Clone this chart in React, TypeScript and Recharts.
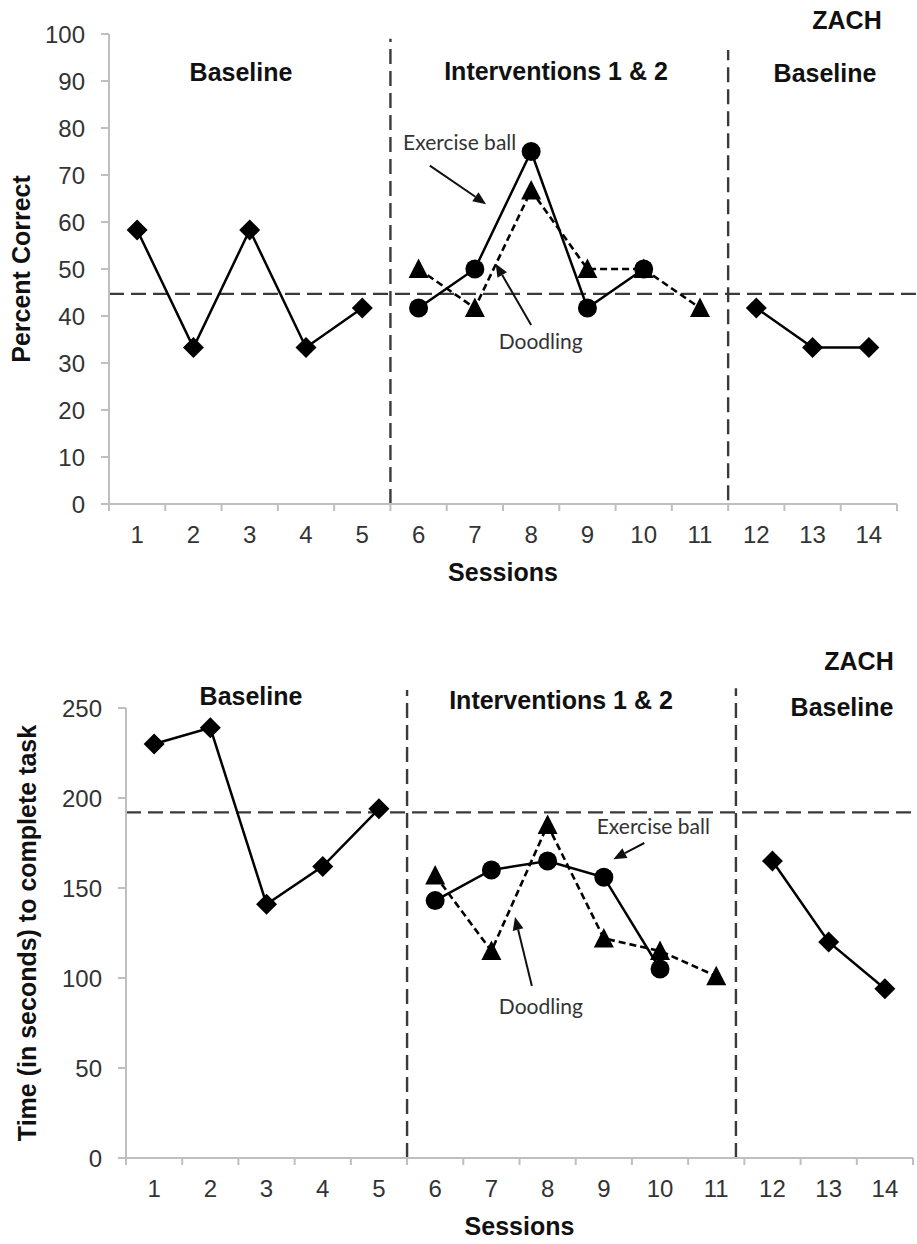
import React from 'react';
import { LineChart, Line, XAxis, YAxis, ReferenceLine, ReferenceDot } from 'recharts';

// sessions on the x axis
const sessions = [1, 2, 3, 4, 5, 6, 7, 8, 9, 10, 11, 12, 13, 14];
const baseline1Sessions = [1, 2, 3, 4, 5];
const ballSessions = [6, 7, 8, 9, 10];
const doodlingSessions = [6, 7, 8, 9, 10, 11];
const baseline2Sessions = [12, 13, 14];

// top panel: percent correct
const accuracyTicks = [0, 10, 20, 30, 40, 50, 60, 70, 80, 90, 100];
const accuracyBaseline1 = [58.3, 33.3, 58.3, 33.3, 41.7];
const accuracyBall = [41.7, 50, 75, 41.7, 50];
const accuracyDoodling = [50, 41.7, 66.7, 50, 50, 41.7];
const accuracyBaseline2 = [41.7, 33.3, 33.3];
const accuracyMean = 44.7;

// bottom panel: time to complete task
const timeTicks = [0, 50, 100, 150, 200, 250];
const timeBaseline1 = [230, 239, 141, 162, 194];
const timeBall = [143, 160, 165, 156, 105];
const timeDoodling = [157, 115, 185, 122, 115, 101];
const timeBaseline2 = [165, 120, 94];
const timeMean = 192;

const sessionTicks = [0.5, ...sessions.flatMap((s) => [s, s + 0.5])];

const toPoints = (xs: number[], ys: number[]) => xs.map((x, i) => ({ x, y: ys[i] }));

const AXIS = '#bfbfbf';
const TICK_TEXT = '#333';
const SANS = '"Liberation Sans", Arial, sans-serif';
const NOTE_FONT = 'Lato, "Open Sans", sans-serif';

const diamondDot = (p: any) => {
  const { cx, cy, index } = p;
  if (cx == null || cy == null) return <g key={`d-${index}`} />;
  const r = 10.5;
  return (
    <polygon
      key={`d-${index}`}
      points={`${cx},${cy - r} ${cx + r},${cy} ${cx},${cy + r} ${cx - r},${cy}`}
      fill="#000"
    />
  );
};

const circleDot = (p: any) => {
  const { cx, cy, index } = p;
  if (cx == null || cy == null) return <g key={`c-${index}`} />;
  return <circle key={`c-${index}`} cx={cx} cy={cy} r={9.5} fill="#000" />;
};

const triangleDot = (p: any) => {
  const { cx, cy, index } = p;
  if (cx == null || cy == null) return <g key={`t-${index}`} />;
  return (
    <polygon
      key={`t-${index}`}
      points={`${cx},${cy - 10.5} ${cx + 10},${cy + 9} ${cx - 10},${cy + 9}`}
      fill="#000"
    />
  );
};

const SessionTick = (props: any) => {
  const { x, y, payload } = props;
  const v = payload.value;
  if (Number.isInteger(v)) {
    return (
      <text x={x} y={y + 31} dy="0.35em" textAnchor="middle" fontSize={24} fill={TICK_TEXT} fontFamily={SANS}>
        {v}
      </text>
    );
  }
  return <line x1={x} x2={x} y1={y} y2={y + 7} stroke={AXIS} strokeWidth={2} />;
};

const ArrowShape = (p: any) => {
  const { x1, y1, x2, y2 } = p;
  if ([x1, y1, x2, y2].some((v) => v == null || isNaN(v))) return <g />;
  const ang = Math.atan2(y2 - y1, x2 - x1);
  const len = 13;
  const half = 5.5;
  const bx = x2 - len * Math.cos(ang);
  const by = y2 - len * Math.sin(ang);
  const px = -Math.sin(ang) * half;
  const py = Math.cos(ang) * half;
  return (
    <g>
      <line x1={x1} y1={y1} x2={bx} y2={by} stroke="#111" strokeWidth={2} />
      <polygon points={`${x2},${y2} ${bx + px},${by + py} ${bx - px},${by - py}`} fill="#111" />
    </g>
  );
};

const noteLabel = (text: string) => (props: any) => {
  const { viewBox } = props;
  const cx = viewBox.x + (viewBox.width || 0) / 2;
  const cy = viewBox.y + (viewBox.height || 0) / 2;
  return (
    <text x={cx} y={cy} dy="0.35em" textAnchor="middle" fontSize={21} fill="#333" fontFamily={NOTE_FONT}>
      {text}
    </text>
  );
};

const xTitle = (props: any) => {
  const { viewBox } = props;
  return (
    <text
      x={viewBox.x + viewBox.width / 2}
      y={viewBox.y + 68}
      dy="0.35em"
      textAnchor="middle"
      fontSize={25}
      fontWeight="bold"
      fill="#111"
      fontFamily={SANS}
    >
      Sessions
    </text>
  );
};

const yTitle = (text: string, x: number) => (props: any) => {
  const { viewBox } = props;
  const cy = viewBox.y + viewBox.height / 2;
  return (
    <text
      x={x}
      y={cy}
      dy="0.35em"
      transform={`rotate(-90, ${x}, ${cy})`}
      textAnchor="middle"
      fontSize={25}
      fontWeight="bold"
      fill="#111"
      fontFamily={SANS}
    >
      {text}
    </text>
  );
};

const PhaseText: React.FC<{ x: number; y: number; children: React.ReactNode }> = ({ x, y, children }) => (
  <div
    style={{
      position: 'absolute',
      left: x,
      top: y,
      transform: 'translate(-50%, -50%)',
      whiteSpace: 'nowrap',
      fontFamily: SANS,
      fontWeight: 'bold',
      fontSize: 25,
      color: '#111',
      lineHeight: 1,
    }}
  >
    {children}
  </div>
);

const seriesLine = (key: string, data: any[], dot: any, dashed = false) => (
  <Line
    key={key}
    data={data}
    dataKey="y"
    type="linear"
    stroke="#000"
    strokeWidth={dashed ? 2.6 : 2.5}
    strokeDasharray={dashed ? '7 4' : undefined}
    dot={dot}
    activeDot={false}
    isAnimationActive={false}
  />
);

const dashStyle = { stroke: '#3a3a3a', strokeWidth: 2.4, strokeDasharray: '15 7' };

export default function App() {
  return (
    <div style={{ position: 'absolute', left: 0, top: 0, width: 917, height: 1244, background: '#fff', fontFamily: SANS }}>
      {/* top panel */}
      <div style={{ position: 'absolute', left: 0, top: 0 }}>
        <LineChart width={917} height={600} margin={{ top: 34, right: 20, left: 0, bottom: 0 }}>
          <XAxis
            type="number"
            dataKey="x"
            domain={[0.5, 14.5]}
            ticks={sessionTicks}
            interval={0}
            tick={<SessionTick />}
            tickLine={false}
            tickSize={0}
            tickMargin={0}
            height={96}
            axisLine={{ stroke: AXIS, strokeWidth: 2 }}
            label={{ content: xTitle }}
          />
          <YAxis
            type="number"
            domain={[0, 100]}
            ticks={accuracyTicks}
            interval={0}
            width={109}
            tickSize={8}
            tickMargin={16}
            tick={{ fontSize: 24, fill: TICK_TEXT, fontFamily: SANS }}
            axisLine={{ stroke: AXIS, strokeWidth: 2 }}
            tickLine={{ stroke: AXIS, strokeWidth: 2 }}
            label={{ content: yTitle('Percent Correct', 21) }}
          />
          <ReferenceLine segment={[{ x: 0.5, y: accuracyMean }, { x: 14.86, y: accuracyMean }]} ifOverflow="visible" {...dashStyle} />
          <ReferenceLine segment={[{ x: 5.5, y: 0 }, { x: 5.5, y: 99 }]} ifOverflow="visible" {...dashStyle} />
          <ReferenceLine segment={[{ x: 11.5, y: 0.8 }, { x: 11.5, y: 96.6 }]} ifOverflow="visible" {...dashStyle} />
          {seriesLine('b1', toPoints(baseline1Sessions, accuracyBaseline1), diamondDot)}
          {seriesLine('dood', toPoints(doodlingSessions, accuracyDoodling), triangleDot, true)}
          {seriesLine('ball', toPoints(ballSessions, accuracyBall), circleDot)}
          {seriesLine('b2', toPoints(baseline2Sessions, accuracyBaseline2), diamondDot)}
          <ReferenceLine segment={[{ x: 6.2, y: 72.0 }, { x: 7.2, y: 63.8 }]} ifOverflow="visible" shape={ArrowShape} />
          <ReferenceLine segment={[{ x: 8.0, y: 38.1 }, { x: 7.37, y: 51.1 }]} ifOverflow="visible" shape={ArrowShape} />
          <ReferenceDot x={6.73} y={76.8} r={0} ifOverflow="visible" label={{ content: noteLabel('Exercise ball') }} />
          <ReferenceDot x={8.17} y={34.5} r={0} ifOverflow="visible" label={{ content: noteLabel('Doodling') }} />
        </LineChart>
        <PhaseText x={847} y={20}>ZACH</PhaseText>
        <PhaseText x={241} y={72}>Baseline</PhaseText>
        <PhaseText x={556} y={71}>Interventions 1 &amp; 2</PhaseText>
        <PhaseText x={825} y={73}>Baseline</PhaseText>
      </div>

      {/* bottom panel */}
      <div style={{ position: 'absolute', left: 0, top: 620 }}>
        <LineChart width={917} height={620} margin={{ top: 88, right: 4, left: 0, bottom: 0 }}>
          <XAxis
            type="number"
            dataKey="x"
            domain={[0.5, 14.5]}
            ticks={sessionTicks}
            interval={0}
            tick={<SessionTick />}
            tickLine={false}
            tickSize={0}
            tickMargin={0}
            height={82}
            axisLine={{ stroke: AXIS, strokeWidth: 2 }}
            label={{ content: xTitle }}
          />
          <YAxis
            type="number"
            domain={[0, 250]}
            ticks={timeTicks}
            interval={0}
            width={126}
            tickSize={8}
            tickMargin={16}
            tick={{ fontSize: 24, fill: TICK_TEXT, fontFamily: SANS }}
            axisLine={{ stroke: AXIS, strokeWidth: 2 }}
            tickLine={{ stroke: AXIS, strokeWidth: 2 }}
            label={{ content: yTitle('Time (in seconds) to complete task', 27) }}
          />
          <ReferenceLine segment={[{ x: 0.5, y: timeMean }, { x: 14.58, y: timeMean }]} ifOverflow="visible" {...dashStyle} />
          <ReferenceLine segment={[{ x: 5.5, y: 0 }, { x: 5.5, y: 260 }]} ifOverflow="visible" {...dashStyle} />
          <ReferenceLine segment={[{ x: 11.35, y: 0 }, { x: 11.35, y: 261 }]} ifOverflow="visible" {...dashStyle} />
          {seriesLine('b1', toPoints(baseline1Sessions, timeBaseline1), diamondDot)}
          {seriesLine('dood', toPoints(doodlingSessions, timeDoodling), triangleDot, true)}
          {seriesLine('ball', toPoints(ballSessions, timeBall), circleDot)}
          {seriesLine('b2', toPoints(baseline2Sessions, timeBaseline2), diamondDot)}
          <ReferenceLine segment={[{ x: 9.72, y: 175 }, { x: 9.17, y: 166 }]} ifOverflow="visible" shape={ArrowShape} />
          <ReferenceLine segment={[{ x: 7.72, y: 95.6 }, { x: 7.42, y: 133.9 }]} ifOverflow="visible" shape={ArrowShape} />
          <ReferenceDot x={9.88} y={183.9} r={0} ifOverflow="visible" label={{ content: noteLabel('Exercise ball') }} />
          <ReferenceDot x={7.88} y={83.9} r={0} ifOverflow="visible" label={{ content: noteLabel('Doodling') }} />
        </LineChart>
        <PhaseText x={859} y={41}>ZACH</PhaseText>
        <PhaseText x={251} y={76}>Baseline</PhaseText>
        <PhaseText x={561} y={80}>Interventions 1 &amp; 2</PhaseText>
        <PhaseText x={842} y={87}>Baseline</PhaseText>
      </div>
    </div>
  );
}
